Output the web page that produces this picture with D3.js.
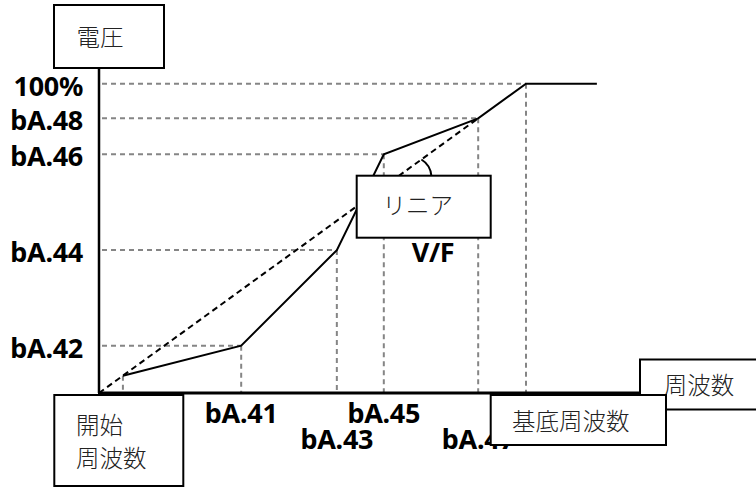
<!DOCTYPE html>
<html>
<head>
<meta charset="utf-8">
<script src="https://cdn.jsdelivr.net/npm/d3@7/dist/d3.min.js"></script>
<style>
  html, body { margin: 0; padding: 0; background: #fff; }
  svg { display: block; }
  .lbl { font-family: "Noto Sans", "Open Sans", sans-serif; font-weight: bold; font-size: 27px; fill: #000; letter-spacing: -0.3px; }
  .jp { font-family: "Noto Sans CJK JP", sans-serif; font-weight: 300; font-size: 23.5px; fill: #222; }
</style>
</head>
<body>
<svg id="chart" width="756" height="487"></svg>
<script>
// ---- data ----
const curveFreq = [5.6, 33.3, 55.7, 66.7, 88.8, 100, 116.6];
const curveVolt = [5.6, 15.3, 46.2, 77.2, 88.8, 100, 100];
const yTickValues = [15.3, 46.2, 77.2, 88.8, 100];
const yTickLabels = ["bA.42", "bA.44", "bA.46", "bA.48", "100%"];
const xTickValues = [33.3, 55.7, 66.7, 88.8];
const xTickLabels = ["bA.41", "bA.43", "bA.45", "bA.47"];
const linearFreq = [0, 88.8];
const linearVolt = [0, 88.8];
const axisEndFreq = 126.7;
const labelVoltage = "電圧";
const labelFreq = "周波数";
const labelStart = ["開始", "周波数"];
const labelBase = "基底周波数";
const labelLinear = "リニア";
const labelVF = "V/F";

// ---- scales ----
const x = d3.scaleLinear().domain([0, 100]).range([99, 526]);
const y = d3.scaleLinear().domain([0, 100]).range([393, 83.7]);

const svg = d3.select("#chart");
const pts = curveFreq.map((f, i) => [f, curveVolt[i]]);

// gridlines (dashed gray)
const grid = svg.append("g").attr("stroke", "#858585").attr("stroke-width", 2)
  .attr("stroke-dasharray", "5,4").attr("fill", "none");
pts.slice(1, 6).forEach(p => {
  grid.append("line").attr("x1", x(0) + 3).attr("x2", x(p[0])).attr("y1", y(p[1])).attr("y2", y(p[1]));
});
pts.slice(0, 6).forEach(p => {
  grid.append("line").attr("x1", x(p[0])).attr("x2", x(p[0])).attr("y1", y(p[1])).attr("y2", y(0));
});

// linear V/F dashed line
const line = d3.line().x(d => x(d[0])).y(d => y(d[1]));
svg.append("path").datum(linearFreq.map((f, i) => [f, linearVolt[i]]))
  .attr("d", line).attr("fill", "none").attr("stroke", "#000")
  .attr("stroke-width", 2).attr("stroke-dasharray", "6,4");

// solid curve
svg.append("path").datum(pts).attr("d", line).attr("fill", "none")
  .attr("stroke", "#000").attr("stroke-width", 2).attr("stroke-linejoin", "miter");

// axes
svg.append("line").attr("x1", x(0)).attr("x2", x(0)).attr("y1", 68).attr("y2", y(0))
  .attr("stroke", "#000").attr("stroke-width", 2.5);
svg.append("line").attr("x1", x(0) - 1).attr("x2", x(axisEndFreq)).attr("y1", y(0)).attr("y2", y(0))
  .attr("stroke", "#000").attr("stroke-width", 3);

// y tick labels
svg.append("g").selectAll("text").data(yTickValues).join("text")
  .attr("class", "lbl").attr("text-anchor", "end")
  .attr("x", 83).attr("y", d => y(d) + 12)
  .text((d, i) => yTickLabels[i]);

// x tick labels (alternating rows)
svg.append("g").selectAll("text").data(xTickValues).join("text")
  .attr("class", "lbl").attr("text-anchor", "middle")
  .attr("x", d => x(d)).attr("y", (d, i) => i % 2 === 0 ? 423 : 449)
  .text((d, i) => xTickLabels[i]);

// V/F label
svg.append("text").attr("class", "lbl").attr("text-anchor", "middle")
  .attr("x", 433).attr("y", 262).text(labelVF);

// angle arc
const a0 = [x(75.5), y(75.5)];
const a1 = [a0[0] + 10, 176];
svg.append("path").attr("d", `M${a0[0]},${a0[1]} A21,21 0 0,1 ${a1[0]},${a1[1]}`)
  .attr("fill", "none").attr("stroke", "#000").attr("stroke-width", 2);

// boxes
function box(x0, y0, w, h) {
  svg.append("rect").attr("x", x0).attr("y", y0).attr("width", w).attr("height", h)
    .attr("fill", "#fff").attr("stroke", "#000").attr("stroke-width", 2);
}
function jtext(tx, ty, t, anchor) {
  svg.append("text").attr("class", "jp").attr("x", tx).attr("y", ty)
    .attr("text-anchor", anchor || "start").attr("dominant-baseline", "central").text(t);
}
box(54, 5, 110, 63);
jtext(100, 36, labelVoltage, "middle");

box(356.7, 175.7, 134, 62);
jtext(382.5, 204, labelLinear);

box(640, 359.5, 118, 50);
jtext(699, 384, labelFreq, "middle");

box(490.7, 395, 175.3, 50);
jtext(512, 420, labelBase);

box(54.3, 395, 129, 91);
jtext(76, 424, labelStart[0]);
jtext(76, 457, labelStart[1]);
</script>
</body>
</html>
